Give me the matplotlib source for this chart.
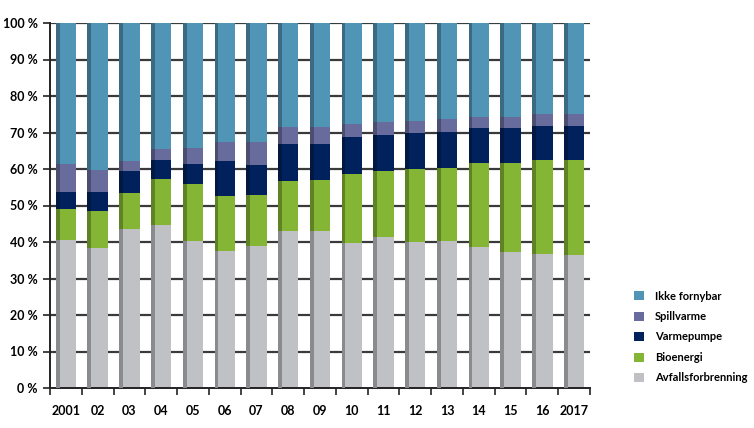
import matplotlib
matplotlib.use("Agg")
import matplotlib.pyplot as plt
from matplotlib.patches import Patch
import numpy as np
from matplotlib.colors import to_rgb

years = ["2001", "02", "03", "04", "05", "06", "07", "08", "09", "10", "11", "12", "13", "14", "15", "16", "2017"]
# cumulative tops (percent)
avfall_top = [40.5, 38.4, 43.6, 44.7, 40.3, 37.5, 38.9, 43.1, 43.0, 39.8, 41.4, 40.1, 40.2, 38.5, 37.3, 36.6, 36.4]
bio_top    = [49.0, 48.5, 53.5, 57.2, 55.8, 52.7, 52.9, 56.8, 56.9, 58.5, 59.5, 59.9, 60.4, 61.7, 61.6, 62.4, 62.4]
varme_top  = [53.7, 53.8, 59.5, 62.4, 61.5, 62.2, 61.1, 66.8, 66.8, 68.9, 69.3, 69.9, 70.2, 71.1, 71.1, 71.9, 71.9]
spill_top  = [61.3, 59.7, 62.2, 65.5, 65.8, 67.5, 67.3, 71.6, 71.6, 72.3, 72.9, 73.2, 73.7, 74.2, 74.3, 75.0, 75.0]

avfall = np.array(avfall_top)
bio = np.array(bio_top) - np.array(avfall_top)
varme = np.array(varme_top) - np.array(bio_top)
spill = np.array(spill_top) - np.array(varme_top)
ikke = 100 - np.array(spill_top)

series = [
    ("Avfallsforbrenning", avfall, "#C0C1C5"),
    ("Bioenergi", bio, "#84B534"),
    ("Varmepumpe", varme, "#00215C"),
    ("Spillvarme", spill, "#686C9C"),
    ("Ikke fornybar", ikke, "#5094B6"),
]

plt.rcParams["font.family"] = ["Lato", "DejaVu Sans"]
fig = plt.figure(figsize=(7.54, 4.28), dpi=100)
ax = fig.add_axes([50/754, 1-388/428, 540/754, 365/428])

x = np.arange(len(years))
w = 0.64
strip = 0.12

def darker(c, f=0.72):
    r, g, b = to_rgb(c)
    return (r*f, g*f, b*f)

for yv in range(10, 101, 10):
    ax.axhline(yv, color="#3a3a3a", lw=1.6, zorder=0)

bottom = np.zeros(len(years))
for name, vals, col in series:
    ax.bar(x, vals, w, bottom=bottom, color=col, zorder=2, linewidth=0)
    ax.bar(x - w/2 + strip/2, vals, strip, bottom=bottom, color=darker(col), zorder=3, linewidth=0)
    bottom = bottom + vals

ax.set_xlim(-0.5, len(years) - 0.5)
ax.set_ylim(0, 100)
ax.set_yticks(range(0, 101, 10))
ax.set_yticklabels([f"{v} %" for v in range(0, 101, 10)], fontsize=9, fontweight="bold")
ax.set_xticks(x)
ax.set_xticklabels(years, fontsize=9, fontweight="bold")
ax.set_xticks(np.arange(-0.5, len(years), 1), minor=True)
ax.tick_params(axis="x", which="major", length=0, pad=12)
ax.tick_params(axis="x", which="minor", length=5, width=1.2, direction="out", color="#222222")
ax.tick_params(axis="y", length=5, width=1.2, color="#222222", pad=4)

for s in ["top", "right"]:
    ax.spines[s].set_visible(False)
ax.spines["left"].set_color("#222222")
ax.spines["left"].set_linewidth(1.4)
ax.spines["bottom"].set_color("#222222")
ax.spines["bottom"].set_linewidth(1.4)

handles = [Patch(facecolor=c, label=n) for n, _, c in reversed(series)]
leg = fig.legend(handles=handles, loc="center left", bbox_to_anchor=(624/754, 1-337/428),
                 frameon=False, handlelength=0.9, handleheight=0.9,
                 labelspacing=0.85, handletextpad=1.0, prop={"weight": "bold", "size": 8})

fig.savefig("out.png", dpi=100)
